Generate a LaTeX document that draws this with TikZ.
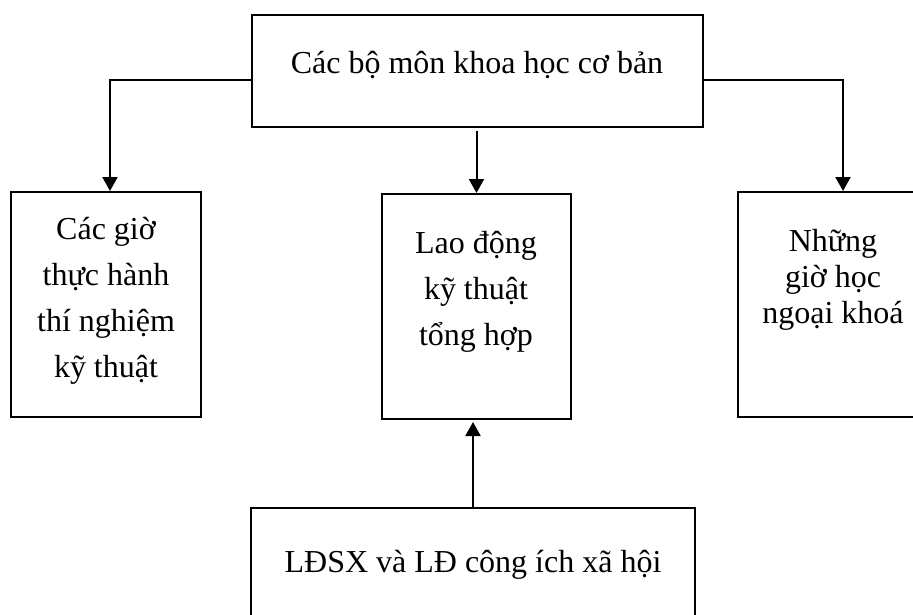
\documentclass[tikz,border=0pt]{standalone}
\usepackage{fontspec}
\setmainfont{Liberation Serif}
\usetikzlibrary{arrows.meta}
\begin{document}
\begin{tikzpicture}[x=1pt,y=-1pt,
  box/.style={draw, line width=2pt, inner sep=0pt},
  lbl/.style={anchor=base, inner sep=0pt, font=\fontsize{32}{46}\selectfont},
  arr/.style={line width=2pt, -{Triangle[length=14pt,width=15pt]}}]
\useasboundingbox (0,0) rectangle (913,615);
\clip (0,0) rectangle (913,615);
\fill[white] (0,0) rectangle (913,615);

\node[box, minimum width=451pt, minimum height=112pt] (top) at (477.5,71) {};
\node[box, minimum width=190pt, minimum height=225pt] (left) at (106,304.5) {};
\node[box, minimum width=189pt, minimum height=225pt] (mid) at (476.5,306.5) {};
\node[box, minimum width=210pt, minimum height=225pt] (right) at (843,304.5) {};
\node[box, minimum width=444pt, minimum height=132pt] (bot) at (473,574) {};

\node[lbl] (ttop) at (477,74) {Các bộ môn khoa học cơ bản};
\node[lbl] (tleft) at (106,239) {\begin{tabular}[t]{@{}c@{}}Các giờ\\ thực hành\\ thí nghiệm\\ kỹ thuật\end{tabular}};
\node[lbl] (tmid) at (476,253) {\begin{tabular}[t]{@{}c@{}}Lao động\\ kỹ thuật\\ tổng hợp\end{tabular}};
\node[lbl, font=\fontsize{32}{36}\selectfont] (tright) at (833,251) {\begin{tabular}[t]{@{}c@{}}Những\\ giờ học\\ ngoại khoá\end{tabular}};
\node[lbl] (tbot) at (473,572) {LĐSX và LĐ công ích xã hội};

\draw[arr] ([yshift=-9pt]top.west) -| ([xshift=4pt]left.north);
\draw[arr] ([yshift=-9pt]top.east) -| (right.north);
\draw[arr] ([yshift=-3pt]top.south -| mid.north) -- (mid.north);
\draw[arr] (bot.north) -- ([yshift=-2pt]bot.north |- mid.south);
\end{tikzpicture}
\end{document}
